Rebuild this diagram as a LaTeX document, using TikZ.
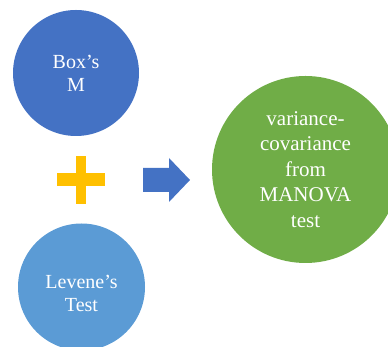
\documentclass[tikz,border=0pt]{standalone}
\usepackage{fontspec}
\setmainfont{Liberation Serif}
\definecolor{darkblue}{HTML}{4472C4}
\definecolor{lightblue}{HTML}{5B9BD5}
\definecolor{mygreen}{HTML}{70AD47}
\definecolor{myyellow}{HTML}{FFC000}
\begin{document}
\begin{tikzpicture}[x=1pt,y=1pt,
  bubble/.style={circle,inner sep=0pt,text=white,align=center},
  small/.style={font=\fontsize{20}{23}\selectfont},
  big/.style={font=\fontsize{21}{25.5}\selectfont}]
\useasboundingbox (0,0) rectangle (388,347);
\begin{scope}
\clip (0,0) rectangle (388,347);
\node[bubble,fill=darkblue,minimum size=126pt] (box) at (76,274) {};
\node[bubble,fill=lightblue,minimum size=127pt] (lev) at (81.5,60) {};
\node[bubble,fill=mygreen,minimum size=187pt] (var) at (305.5,177.5) {};
\end{scope}
\node[small,text=white,align=center] (boxt) at (box.center) {Box’s\\M};
\node[small,text=white,align=center] (levt) at (81.5,54) {Levene’s\\Test};
\node[big,text=white,align=center] (vart) at (var.center) {variance-\\covariance\\from\\MANOVA\\test};
% plus
\fill[myyellow] (76,143) rectangle (86,191);
\fill[myyellow] (57,161) rectangle (105,174);
\coordinate (plus) at (81,167);
% arrow
\fill[darkblue] (143,179) -- (169,179) -- (169,189) -- (190,167) -- (169,145) -- (169,155) -- (143,155) -- cycle;
\end{tikzpicture}
\end{document}
